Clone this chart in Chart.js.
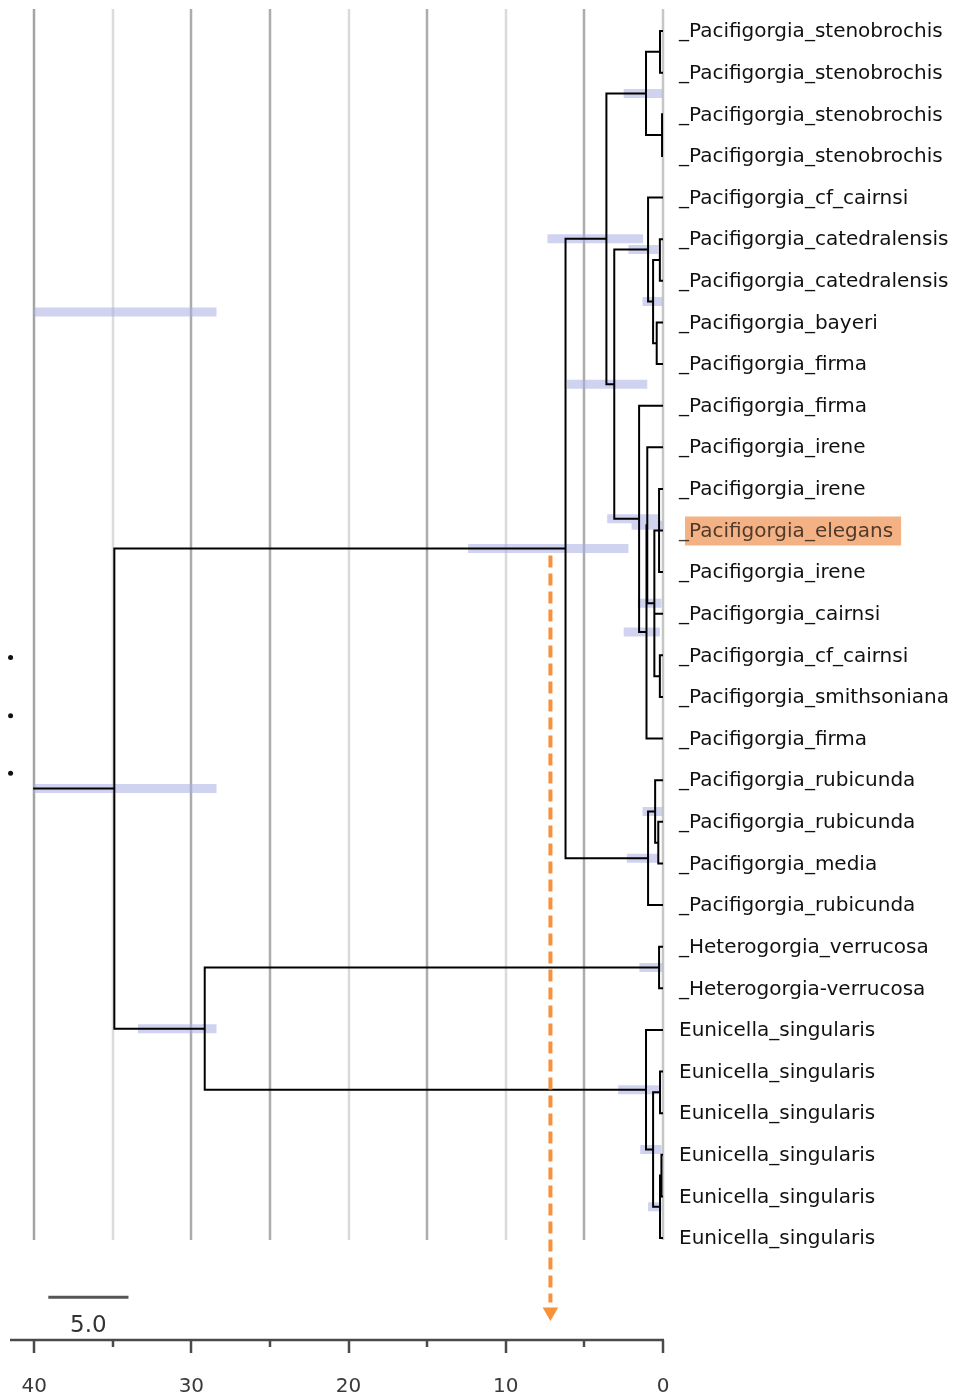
<!DOCTYPE html>
<html>
<head>
<meta charset="utf-8">
<script src="https://cdn.jsdelivr.net/npm/chart.js@4.4.1/dist/chart.umd.min.js"></script>
<style>
  html, body { margin: 0; padding: 0; background: #fff; }
  canvas { display: block; }
</style>
</head>
<body>
<canvas id="tree" width="953" height="1396"></canvas>
<script>
// ---- data ----
const leafNames = [
  '_Pacifigorgia_stenobrochis', '_Pacifigorgia_stenobrochis', '_Pacifigorgia_stenobrochis', '_Pacifigorgia_stenobrochis',
  '_Pacifigorgia_cf_cairnsi', '_Pacifigorgia_catedralensis', '_Pacifigorgia_catedralensis', '_Pacifigorgia_bayeri',
  '_Pacifigorgia_firma', '_Pacifigorgia_firma', '_Pacifigorgia_irene', '_Pacifigorgia_irene',
  '_Pacifigorgia_elegans', '_Pacifigorgia_irene', '_Pacifigorgia_cairnsi', '_Pacifigorgia_cf_cairnsi',
  '_Pacifigorgia_smithsoniana', '_Pacifigorgia_firma', '_Pacifigorgia_rubicunda', '_Pacifigorgia_rubicunda',
  '_Pacifigorgia_media', '_Pacifigorgia_rubicunda', '_Heterogorgia_verrucosa', '_Heterogorgia-verrucosa',
  'Eunicella_singularis', 'Eunicella_singularis', 'Eunicella_singularis', 'Eunicella_singularis',
  'Eunicella_singularis', 'Eunicella_singularis'
];
const highlightLeaf = 12;

// internal nodes: id, age (time units before present), children (leaf index or node id)
const nodeIds   = ['st12','st34','st','cat','bf','n653','n648','r','s','q','p','n647','n639','n614','n605',
                   'b','a','rub','A','het','e3','e4a','e4','e2','eun','B','root'];
const nodeAges  = [0.19, 0.06, 1.08, 0.2, 0.4, 0.63, 0.95, 0.25, 0.2, 0.55, 1.0, 1.05, 1.52, 3.1, 3.6,
                   0.3, 0.5, 0.95, 6.2, 0.25, 0.19, 0.1, 0.19, 0.63, 1.08, 29.15, 34.9];
const nodeKids  = [[0,1],[2,3],['st12','st34'],[5,6],[7,8],['cat','bf'],[4,'n653'],[11,12,13],[15,16],
                   ['r',14,'s'],[10,'q'],['p',17],[9,'n647'],['n648','n639'],['st','n614'],
                   [19,20],[18,'b'],['a',21],['n605','rub'],[22,23],[25,26],[27,28],['e4a',29],['e3','e4'],
                   [24,'e2'],['het','eun'],['A','B']];
// 95% HPD interval of each node age (null = too small to see)
const hpdOld    = [null, null, 2.5, null, null, 1.3, 2.2, null, null, 1.6, 2.0, 2.5, 3.55, 6.1, 7.35,
                   null, 1.3, 2.3, 12.4, 1.5, null, null, 0.95, 1.45, 2.85, 33.4, 40];
const hpdYoung  = [null, null, 0.05, null, null, 0.05, 0.3, null, null, 0.1, 0.05, 0.2, 0.3, 1.0, 1.27,
                   null, 0.05, 0.3, 2.2, 0.05, null, null, 0.1, 0.1, 0.2, 28.4, 28.4];
const rootStemAge = 40;
const strayBarRow = 6.75, strayBarAges = [40, 28.4];

const axisTicks = [40, 35, 30, 25, 20, 15, 10, 5, 0];
const scaleBarAges = [39.1, 34.0], scaleBarRow = 30.42, scaleBarText = '5.0';
const markerAge = 7.16, markerRows = [12.6, 30.55], markerHeadRow = 30.78;
const dotAge = 41.5, dotRows = [15.05, 16.45, 17.83];

// ---- lay the tree out ----
const nodeIndex = {};
nodeIds.forEach((id, i) => nodeIndex[id] = i);
const rowOf = {};
const ageOf = k => typeof k === 'number' ? 0 : nodeAges[nodeIndex[k]];
function rowFor(k) {
  if (typeof k === 'number') return k;
  if (rowOf[k] !== undefined) return rowOf[k];
  const kids = nodeKids[nodeIndex[k]];
  rowOf[k] = (rowFor(kids[0]) + rowFor(kids[kids.length - 1])) / 2;
  return rowOf[k];
}

const branchPts = [];
const gap = {x: null, y: null};
nodeIds.forEach((id, i) => {
  const kids = nodeKids[i];
  const a = nodeAges[i];
  branchPts.push({x: a, y: rowFor(kids[0])}, {x: a, y: rowFor(kids[kids.length - 1])}, gap);
  kids.forEach(k => branchPts.push({x: a, y: rowFor(k)}, {x: ageOf(k), y: rowFor(k)}, gap));
});
branchPts.push({x: rootStemAge, y: rowFor('root')}, {x: nodeAges[nodeIndex.root], y: rowFor('root')}, gap);

const hpdPts = [];
nodeIds.forEach((id, i) => {
  if (hpdOld[i] === null) return;
  hpdPts.push({x: hpdOld[i], y: rowFor(id)}, {x: hpdYoung[i], y: rowFor(id)}, gap);
});
hpdPts.push({x: strayBarAges[0], y: strayBarRow}, {x: strayBarAges[1], y: strayBarRow});

// ---- drawing helpers ----
const decor = {
  id: 'decor',
  beforeDatasetsDraw(chart) {
    const {ctx, chartArea, scales: {x, y}} = chart;
    const shade = ['#a4a4a4','#dcdcdc','#acacac','#acacac','#dadada','#acacac','#dadada','#acacac','#c6c6c6'];
    ctx.save();
    ctx.lineWidth = 2.5;
    axisTicks.forEach((v, i) => {
      const px = Math.round(x.getPixelForValue(v));
      ctx.strokeStyle = shade[i];
      ctx.beginPath();
      ctx.moveTo(px, chartArea.top);
      ctx.lineTo(px, y.getPixelForValue(29.05));
      ctx.stroke();
    });
    ctx.restore();
  },
  afterDatasetsDraw(chart) {
    const {ctx, chartArea, scales: {x, y}} = chart;
    ctx.save();
    // bottom axis line and tick marks
    ctx.strokeStyle = '#4a4a4a';
    ctx.lineWidth = 2.5;
    ctx.beginPath();
    ctx.moveTo(10, chartArea.bottom);
    ctx.lineTo(x.getPixelForValue(0) + 1, chartArea.bottom);
    ctx.stroke();
    axisTicks.forEach(v => {
      const px = Math.round(x.getPixelForValue(v));
      ctx.beginPath();
      ctx.moveTo(px, chartArea.bottom);
      ctx.lineTo(px, chartArea.bottom + (v % 10 === 0 ? 13 : 7));
      ctx.stroke();
    });
    // scale bar caption
    ctx.fillStyle = '#333';
    ctx.font = '23px "DejaVu Sans"';
    ctx.textAlign = 'center';
    ctx.textBaseline = 'middle';
    ctx.fillText(scaleBarText, x.getPixelForValue((scaleBarAges[0] + scaleBarAges[1]) / 2), y.getPixelForValue(31.12));
    // tip labels
    ctx.font = '20px "DejaVu Sans"';
    ctx.textAlign = 'left';
    const lx = x.getPixelForValue(0) + 16;
    leafNames.forEach((name, i) => {
      const py = y.getPixelForValue(i);
      if (i === highlightLeaf) {
        const bx = lx + ctx.measureText('_').width - 4;
        const bw = ctx.measureText(name.slice(1)).width + 12;
        ctx.fillStyle = '#f4b184';
        ctx.fillRect(bx, py - 14, bw, 29);
        ctx.fillStyle = '#4e3a2c';
      } else {
        ctx.fillStyle = '#111';
      }
      ctx.fillText(name, lx, py + 1);
    });
    ctx.restore();
  }
};

new Chart(document.getElementById('tree'), {
  type: 'scatter',
  data: {
    datasets: [
      {
        label: 'marker head',
        data: [{x: markerAge, y: markerHeadRow}],
        pointStyle: 'triangle', rotation: 180, pointRadius: 9,
        backgroundColor: '#f7923a', borderColor: '#f7923a', borderWidth: 0,
        clip: false, order: 0
      },
      {
        label: 'marker',
        type: 'line',
        data: markerRows.map(r => ({x: markerAge, y: r})),
        borderColor: '#f7923a', borderWidth: 4, borderDash: [12, 6],
        pointRadius: 0, clip: false, order: 1
      },
      {
        label: 'dots',
        data: dotRows.map(r => ({x: dotAge, y: r})),
        pointRadius: 2.5, backgroundColor: '#111', borderWidth: 0,
        clip: false, order: 2
      },
      {
        label: 'scale bar',
        type: 'line',
        data: scaleBarAges.map(a => ({x: a, y: scaleBarRow})),
        borderColor: '#555', borderWidth: 3, pointRadius: 0, clip: false, order: 3
      },
      {
        label: 'branches',
        type: 'line',
        data: branchPts,
        borderColor: '#000', borderWidth: 2, borderCapStyle: 'square',
        pointRadius: 0, spanGaps: false, tension: 0, order: 4
      },
      {
        label: 'hpd',
        type: 'line',
        data: hpdPts,
        borderColor: 'rgba(168, 174, 228, 0.55)', borderWidth: 9, borderCapStyle: 'butt',
        pointRadius: 0, spanGaps: false, tension: 0, order: 5
      }
    ]
  },
  options: {
    responsive: false,
    animation: false,
    layout: { padding: { left: 6.76, right: 290, top: 8, bottom: 0 } },
    plugins: { legend: { display: false }, tooltip: { enabled: false } },
    scales: {
      x: {
        type: 'linear', reverse: true, min: 0, max: 41.6,
        afterBuildTicks: s => { s.ticks = axisTicks.map(v => ({value: v})); },
        afterFit: s => { s.height = 56; s.paddingLeft = 0; s.paddingRight = 0; },
        grid: { display: false, drawTicks: false },
        border: { display: false },
        ticks: {
          padding: 35, color: '#3a3a3a', maxRotation: 0, autoSkip: false,
          font: { family: 'DejaVu Sans', size: 20 },
          callback: v => (v % 10 === 0 ? String(v) : '')
        }
      },
      y: {
        type: 'linear', reverse: true, min: -0.53, max: 31.45, display: false
      }
    }
  },
  plugins: [decor]
});
</script>
</body>
</html>
